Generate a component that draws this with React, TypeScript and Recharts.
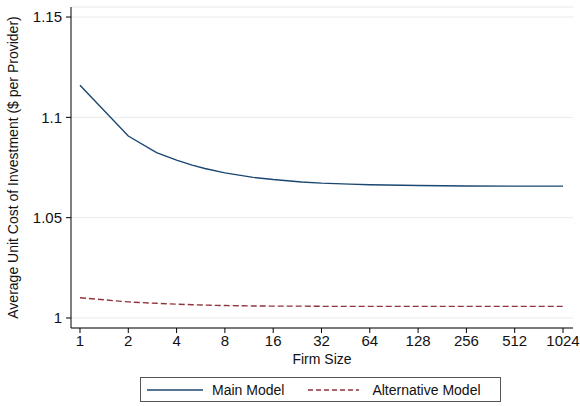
import { LineChart, Line, XAxis, YAxis, CartesianGrid, Legend } from "recharts";

const FIRM_SIZES = [1, 2, 3, 4, 5, 6, 8, 12, 16, 24, 32, 48, 64, 128, 256, 512, 1024];
const MAIN_MODEL = [
  1.116, 1.0907, 1.0824, 1.0787, 1.0762, 1.0745, 1.0723, 1.0701, 1.069, 1.0678, 1.0672,
  1.0667, 1.0664, 1.066, 1.0658, 1.0657, 1.0657,
];
const ALT_MODEL = [
  1.0101, 1.008, 1.0073, 1.0069, 1.0066, 1.0064, 1.0062, 1.006, 1.0059, 1.0059, 1.0058,
  1.0058, 1.0058, 1.0058, 1.0058, 1.0058, 1.0058,
];
const X_TICKS = [1, 2, 4, 8, 16, 32, 64, 128, 256, 512, 1024];
const Y_TICKS = [1, 1.05, 1.1, 1.15];

const NAVY = "#1a476f";
const MAROON = "#90353b";
const FONT = "Arimo, 'Liberation Sans', Arial, sans-serif";

const data = FIRM_SIZES.map((size, i) => ({
  size,
  main: MAIN_MODEL[i],
  alt: ALT_MODEL[i],
}));

function LegendBox() {
  return (
    <div
      style={{
        position: "absolute",
        left: 140,
        top: 377,
        width: 361,
        height: 25,
        border: "1px solid #555",
        boxSizing: "border-box",
        display: "flex",
        alignItems: "center",
        whiteSpace: "nowrap",
        fontFamily: FONT,
        fontSize: 14,
        color: "#111",
      }}
    >
      <svg width={65} height={10} style={{ marginLeft: 6, flexShrink: 0 }}>
        <line x1={0} y1={5} x2={56} y2={5} stroke={NAVY} strokeWidth={1.4} />
      </svg>
      <span>Main Model</span>
      <svg width={64} height={10} style={{ marginLeft: 24, flexShrink: 0 }}>
        <line x1={0} y1={5} x2={51} y2={5} stroke={MAROON} strokeWidth={1.4} strokeDasharray="5 3" />
      </svg>
      <span>Alternative Model</span>
    </div>
  );
}

export default function App() {
  return (
    <div style={{ position: "absolute", left: 0, top: 0, width: 580, height: 406, background: "#fff" }}>
      <LineChart
        width={580}
        height={406}
        data={data}
        margin={{ top: 7, right: 7, left: 0, bottom: 48 }}
      >
        <CartesianGrid vertical={false} stroke="#eaeaea" strokeWidth={1} />
        <XAxis
          dataKey="size"
          type="number"
          scale="log"
          domain={[0.879, 1182]}
          ticks={X_TICKS}
          interval={0}
          allowDataOverflow
          height={30}
          stroke="#000"
          tickSize={5}
          tick={{ fill: "#111", fontSize: 15, fontFamily: FONT }}
          label={{
            value: "Firm Size",
            position: "insideBottom",
            offset: -6,
            style: { fill: "#111", fontSize: 14, fontFamily: FONT },
          }}
        />
        <YAxis
          type="number"
          domain={[0.995, 1.155]}
          ticks={Y_TICKS}
          interval={0}
          allowDataOverflow
          width={71}
          stroke="#000"
          tickSize={5}
          tickFormatter={(v: number) => String(Number(v.toFixed(2)))}
          tick={{ fill: "#111", fontSize: 15, fontFamily: FONT, dx: -2 }}
          label={{
            value: "Average Unit Cost of Investment ($ per Provider)",
            angle: -90,
            position: "insideLeft",
            offset: 13,
            style: { textAnchor: "middle", fill: "#111", fontSize: 14, fontFamily: FONT },
          }}
        />
        <Line
          dataKey="main"
          stroke={NAVY}
          strokeWidth={1.4}
          dot={false}
          type="linear"
          isAnimationActive={false}
        />
        <Line
          dataKey="alt"
          stroke={MAROON}
          strokeWidth={1.4}
          strokeDasharray="6 3"
          dot={false}
          type="linear"
          isAnimationActive={false}
        />
        <Legend content={() => null} />
      </LineChart>
      <LegendBox />
    </div>
  );
}
